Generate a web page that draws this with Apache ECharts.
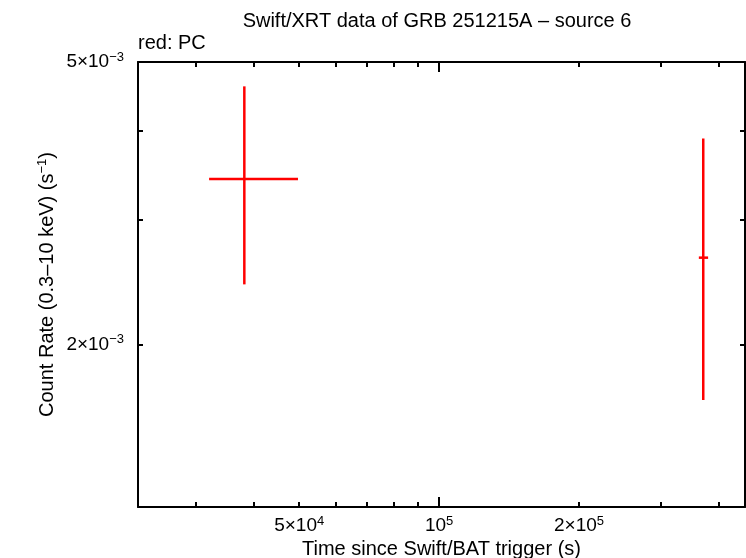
<!DOCTYPE html>
<html><head><meta charset="utf-8">
<script src="https://cdn.jsdelivr.net/npm/echarts@6/dist/echarts.min.js"></script>
<style>html,body{margin:0;padding:0;background:#fff}#c{width:746px;height:558px}</style>
</head><body><div id="c"></div>
<script>
// ---- text ----
const titleText = 'Swift/XRT data of GRB 251215A \u2013 source 6';
const legendText = 'red: PC';
const xName = 'Time since Swift/BAT trigger (s)';
const yNameMain = 'Count Rate (0.3\u201310 keV) (s';
const yNameSup = '\u22121';

// ---- axes ----
const xRange = [2.25e4, 4.55e5];
const yRange = [1.18e-3, 5.0e-3];
const xMinorTicks = [3e4, 4e4, 5e4, 6e4, 7e4, 8e4, 9e4, 2e5, 3e5, 4e5];
const xMajorTicks = [1e5];
const xLabelTicks = [5e4, 1e5, 2e5];
const yTicks = [2e-3, 3e-3, 4e-3, 5e-3];
const yLabelTicks = [2e-3, 5e-3];

// ---- data (PC mode) ----
const pcTime   = [3.81e4, 3.70e5];
const pcTimeLo = [3.20e4, 3.62e5];
const pcTimeHi = [4.97e4, 3.79e5];
const pcRate   = [3.42e-3, 2.65e-3];
const pcRateLo = [2.43e-3, 1.67e-3];
const pcRateHi = [4.62e-3, 3.90e-3];

const FONT = 'Liberation Sans';
const pcData = pcTime.map((t, i) => [t, pcRate[i], pcTimeLo[i], pcTimeHi[i], pcRateLo[i], pcRateHi[i]]);

function sciLabel(v) {
  const e = Math.floor(Math.log10(v) + 1e-9);
  const m = Math.round(v / Math.pow(10, e));
  const es = (e < 0 ? '\u2212' : '') + Math.abs(e);
  return (m === 1 ? '{b|10}' : '{b|' + m + '\u00D710}') + '{s|' + es + '}';
}
const rich = {
  b: { fontFamily: FONT, fontSize: 19, color: '#000', lineHeight: 22 },
  s: { fontFamily: FONT, fontSize: 13, color: '#000', verticalAlign: 'top', lineHeight: 22, padding: [0, 0, 6, 0] }
};
const axisLineStyle = { color: '#000', width: 2 };
const tickStyle = { color: '#000', width: 2 };

function xAx(pos, ticks, len, showLine, showLabel) {
  return {
    type: 'log', logBase: 10, position: pos, min: xRange[0], max: xRange[1],
    axisLine: { show: showLine, lineStyle: axisLineStyle },
    axisTick: { show: true, inside: true, length: len, customValues: ticks, lineStyle: tickStyle },
    axisLabel: showLabel ? { show: true, customValues: xLabelTicks, formatter: sciLabel, rich: rich, margin: 8 } : { show: false },
    splitLine: { show: false }, minorTick: { show: false },
    name: showLabel ? xName : '', nameLocation: 'middle', nameGap: 32, nameMoveOverlap: false,
    nameTextStyle: { fontFamily: FONT, fontSize: 20, color: '#000' }
  };
}
function yAx(pos, showLabel) {
  return {
    type: 'log', logBase: 10, position: pos, min: yRange[0], max: yRange[1],
    axisLine: { show: true, lineStyle: axisLineStyle },
    axisTick: { show: true, inside: true, length: 5, customValues: yTicks, lineStyle: tickStyle },
    axisLabel: showLabel ? { show: true, customValues: yLabelTicks, formatter: sciLabel, rich: rich, margin: 14 } : { show: false },
    splitLine: { show: false }, minorTick: { show: false },
    name: showLabel ? '{n|' + yNameMain + '}{s|' + yNameSup + '}{n|)}' : '',
    nameLocation: 'middle', nameGap: 80, nameMoveOverlap: false,
    nameTextStyle: { rich: { n: { fontFamily: FONT, fontSize: 20, color: '#000', lineHeight: 22 }, s: rich.s } }
  };
}

const chart = echarts.init(document.getElementById('c'), null, { renderer: 'canvas' });
chart.setOption({
  animation: false,
  backgroundColor: '#fff',
  textStyle: { fontFamily: FONT },
  grid: { left: 138, right: 1, top: 62, bottom: 51, containLabel: false, outerBoundsMode: 'none' },
  xAxis: [
    xAx('bottom', xMinorTicks, 5, true, true),
    xAx('bottom', xMajorTicks, 10, false, false),
    xAx('top', xMinorTicks, 5, true, false),
    xAx('top', xMajorTicks, 10, false, false)
  ],
  yAxis: [yAx('left', true), yAx('right', false)],
  graphic: [
    { type: 'text', x: 437, y: 21, style: { text: titleText, fontFamily: FONT, fontSize: 20, fill: '#000', textAlign: 'center', textVerticalAlign: 'middle' } },
    { type: 'text', x: 138, y: 43, style: { text: legendText, fontFamily: FONT, fontSize: 20, fill: '#000', textAlign: 'left', textVerticalAlign: 'middle' } }
  ],
  series: [{
    type: 'custom', xAxisIndex: 0, yAxisIndex: 0,
    encode: { x: 0, y: 1 },
    data: pcData,
    renderItem: function (params, api) {
      const x = api.value(0), y = api.value(1);
      const pL = api.coord([api.value(2), y]), pR = api.coord([api.value(3), y]);
      const pB = api.coord([x, api.value(4)]), pT = api.coord([x, api.value(5)]);
      const st = { stroke: '#ff0000', lineWidth: 2.5 };
      return { type: 'group', children: [
        { type: 'line', shape: { x1: pL[0], y1: pL[1], x2: pR[0], y2: pR[1] }, style: st },
        { type: 'line', shape: { x1: pB[0], y1: pB[1], x2: pT[0], y2: pT[1] }, style: st }
      ]};
    }
  }]
});
</script></body></html>
